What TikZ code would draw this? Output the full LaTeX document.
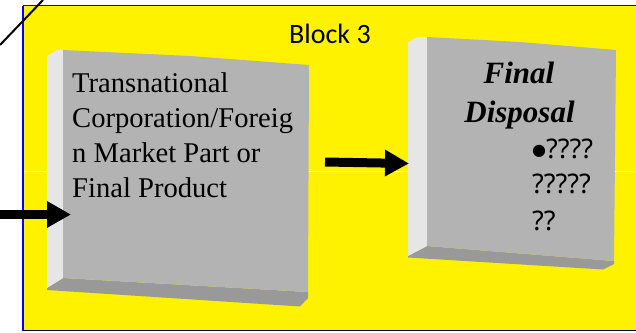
\documentclass[tikz,border=0pt]{standalone}
\usepackage{fontspec}
\setmainfont{Liberation Serif}
\newfontfamily\blockfont{Carlito}
\newfontfamily\qfont{Noto Sans}
\newfontfamily\symfont{DejaVu Sans}
\usetikzlibrary{arrows.meta}
\definecolor{frontgray}{HTML}{B3B3B3}
\definecolor{sidegray}{HTML}{E6E6E6}
\definecolor{bottomgray}{HTML}{999999}
\tikzset{
  front/.style={fill=frontgray},
  side/.style={fill=sidegray},
  bottom/.style={fill=bottomgray},
  fatarrow/.style={line width=9pt,-{Triangle[length=24pt,width=25pt]}},
  txt/.style={anchor=base west,inner sep=0pt,font=\fontsize{28.6}{35}\selectfont},
  ttl/.style={anchor=base,inner sep=0pt,font=\fontsize{31}{38}\selectfont\bfseries\itshape},
  qtxt/.style={anchor=base west,inner sep=0pt,font=\qfont\fontsize{27}{34}\selectfont},
}
\begin{document}
\begin{tikzpicture}[x=1pt,y=-1pt]
\useasboundingbox (0,0) rectangle (636,332);
\clip (0,0) rectangle (636,332);
% background panel
\fill[yellow] (23,5.5) rectangle (660,330.5);
\draw[white,line width=0.8pt] (23,171) -- (636,171);
\draw[blue,line width=1.4pt] (23,5.5) -- (23,330.5);
\draw[blue,line width=1.4pt] (23,5.5) -- (660,5.5);
\draw[black!70!blue,line width=1pt] (23,330.8) -- (660,330.8);
\draw[black,line width=2pt] (0,45) -- (43,0);
\node[anchor=base,inner sep=0pt,font=\blockfont\fontsize{28}{34}\selectfont] (title) at (330,43) {Block 3};
% left block
\fill[bottom] (47,288) -- (63,278) -- (308,292) -- (308,298) -- (300,306.5) -- (47,290) -- cycle;
\fill[side] (47,56) -- (57,50) -- (63,50) -- (63,278) -- (47,288) -- cycle;
\fill[front] (63,50) -- (190,56) -- (309,65) -- (308,292) -- (63,278) -- cycle;
\coordinate (L-w) at (71,214.5);
\node[txt] (l1) at (72,92) {Transnational};
\node[txt] (l2) at (72,127) {Corporation/Foreig};
\node[txt] (l3) at (72,162) {n Market Part or};
\node[txt] (l4) at (72,197) {Final Product};
% right block
\fill[bottom] (408,256) -- (427,246) -- (614,261) -- (614,264) -- (603,269.5) -- (408,257.5) -- cycle;
\fill[side] (408,42) -- (418,37) -- (427,37) -- (427,246) -- (408,256) -- cycle;
\fill[front] (427,37) -- (520,42) -- (616,50) -- (614,261) -- (427,246) -- cycle;
\coordinate (R-w) at (409,163.5);
\node[ttl] (r1) at (519,83) {Final};
\node[ttl] (r2) at (519.5,122) {Disposal};
\node[qtxt] (r3) at (532,158) {\raisebox{3pt}{\symfont\fontsize{16}{16}\selectfont ●}????};
\node[qtxt] (r4) at (532,193) {?????};
\node[qtxt] (r5) at (532,230) {??};
% arrows
\coordinate (in) at (0,214.5);
\coordinate (mid) at (325,162);
\draw[fatarrow] (in) -- (L-w);
\draw[fatarrow] (mid) -- (R-w);
\end{tikzpicture}
\end{document}
